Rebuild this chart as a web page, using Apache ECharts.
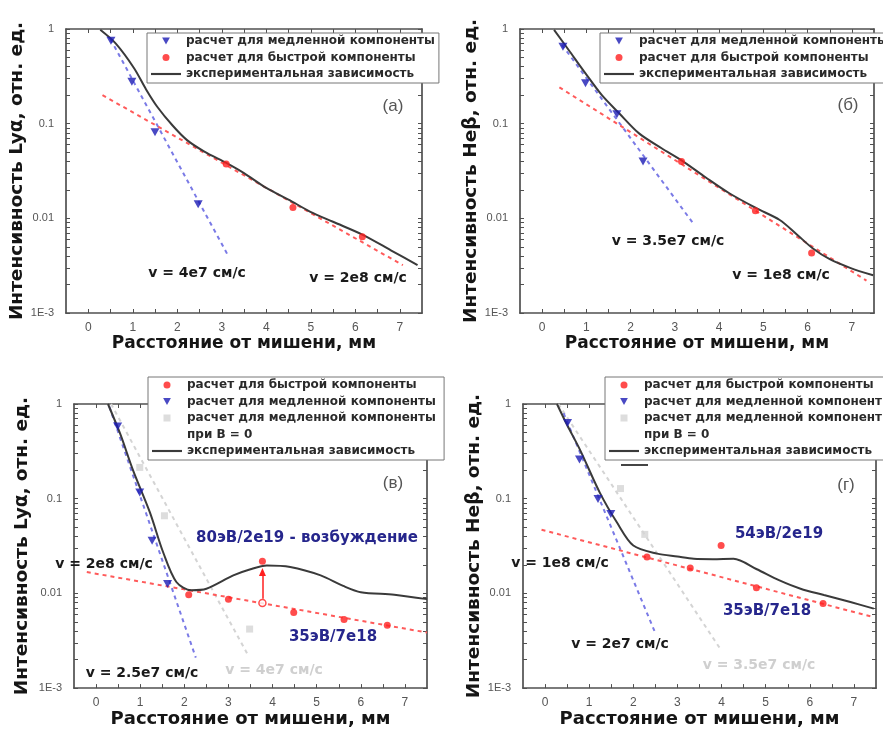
<!DOCTYPE html>
<html><head><meta charset="utf-8">
<script src="https://cdn.jsdelivr.net/npm/echarts@6/dist/echarts.min.js"></script>
<style>html,body{margin:0;padding:0;background:#fff}#c{width:883px;height:729px}</style>
</head><body><div id="c"></div>
<script>
// ---------- DATA ----------
const xTickLabels = [0,1,2,3,4,5,6,7];
const xTickMarks = [0,0.5,1,1.5,2,2.5,3,3.5,4,4.5,5,5.5,6,6.5,7];
const yTickValues = [0.001,0.01,0.1,1];
const yTickLabels = ['1E-3','0.01','0.1','1'];
const yMinorValues = [0.001,0.002,0.003,0.004,0.005,0.006,0.007,0.008,0.009,
  0.01,0.02,0.03,0.04,0.05,0.06,0.07,0.08,0.09,0.1,0.2,0.3,0.4,0.5,0.6,0.7,0.8,0.9,1];

// panel (а)
const aSlow = [[0.51,0.75],[0.98,0.278],[1.5,0.081],[2.47,0.0141]];
const aSlowFit = [[0.5,0.78],[3.16,0.0039]];
const aFast = [[3.10,0.0376],[4.6,0.013],[6.16,0.0064]];
const aFastFit = [[0.32,0.20],[7.07,0.0032]];
const aExp = [[0.27,0.98],[0.62,0.7],[1.03,0.385],[1.3,0.23],[1.55,0.151],[1.9,0.095],[2.22,0.067],[2.6,0.051],[3.12,0.038],[3.5,0.03],[4.01,0.0208],[4.5,0.0158],[4.98,0.0118],[5.5,0.0092],[6.17,0.0067],[6.8,0.0046],[7.4,0.0032]];

// panel (б)
const bSlow = [[0.47,0.65],[0.98,0.267],[1.69,0.126],[2.28,0.0398]];
const bSlowFit = [[0.45,0.68],[3.44,0.0085]];
const bFast = [[3.15,0.0398],[4.82,0.012],[6.09,0.0043]];
const bFastFit = [[0.39,0.242],[7.33,0.0022]];
const bExp = [[0.27,0.98],[0.6,0.6],[0.98,0.34],[1.35,0.2],[1.74,0.129],[2.19,0.079],[2.7,0.055],[3.15,0.041],[3.7,0.027],[4.23,0.0184],[4.84,0.0128],[5.37,0.0096],[5.75,0.0068],[6.12,0.0048],[6.5,0.0037],[6.96,0.003],[7.48,0.0025]];

// panel (в)
const cSlow = [[0.49,0.58],[0.99,0.116],[1.27,0.036],[1.62,0.0126]];
const cSlowFit = [[0.3,0.94],[2.26,0.0021]];
const cB0 = [[0.99,0.214],[1.55,0.066],[3.48,0.0042]];
const cB0Fit = [[0.34,1.0],[3.45,0.0022]];
const cFast = [[2.1,0.0097],[3.0,0.0087],[3.77,0.0219],[4.48,0.0063],[5.62,0.0053],[6.6,0.0046]];
const cFastOpen = [[3.77,0.0079]];
const cArrow = [[3.77,0.0088],[3.77,0.0168]];
const cFastFit = [[-0.21,0.0168],[7.5,0.00386]];
const cExp = [[0.27,1.0],[0.55,0.48],[0.83,0.204],[1.22,0.0716],[1.52,0.0272],[1.82,0.0132],[2.16,0.0108],[2.5,0.0112],[3.11,0.0155],[3.5,0.018],[3.87,0.0197],[4.4,0.019],[5.09,0.0155],[5.6,0.012],[6.0,0.0103],[6.76,0.0097],[7.5,0.0087]];

// panel (г)
const dSlow = [[0.51,0.63],[0.78,0.26],[1.2,0.099],[1.49,0.069]];
const dSlowFit = [[0.42,0.8],[2.5,0.0038]];
const dB0 = [[1.71,0.128],[2.26,0.042]];
const dB0Fit = [[0.3,1.0],[3.97,0.0026]];
const dFast = [[2.31,0.0242],[3.29,0.0186],[3.99,0.032],[4.79,0.0115],[6.3,0.0078]];
const dFastFit = [[-0.08,0.047],[7.45,0.0056]];
const dExp = [[0.27,1.0],[0.5,0.6],[0.79,0.33],[1.24,0.116],[1.63,0.056],[2.0,0.032],[2.54,0.0263],[3.0,0.0245],[3.37,0.0232],[3.8,0.023],[4.27,0.0232],[4.8,0.018],[5.3,0.0138],[5.79,0.0112],[6.32,0.0096],[6.92,0.0081],[7.45,0.0069]];

const NAME_SLOW = 'расчет для медленной компоненты';
const NAME_FAST = 'расчет для быстрой компоненты';
const NAME_B0 = 'расчет для медленной компоненты ';
const NAME_B0b = 'при B = 0';
const NAME_EXP = 'экспериментальная зависимость';
const xTitle = 'Расстояние от мишени, мм';
const yTitles = ['Интенсивность Lyα, отн. ед.','Интенсивность Heβ, отн. ед.','Интенсивность Lyα, отн. ед.','Интенсивность Heβ, отн. ед.'];

// ---------- STYLE / LAYOUT ----------
const FONT = "'Liberation Sans', Arial, sans-serif";
const BFONT = "'DejaVu Sans', Verdana, sans-serif";
const AX = '#505050';
const C_BLUE = '#1c1cb4', C_BLUE_L = '#7a7ae6';
const C_RED = '#ff1f1f', C_RED_L = '#ff5a5a';
const C_GRAY = '#d4d4d4';
const C_EXP = '#3a3a3a';
const TRI = 'path://M0,0L10,0L5,9Z';
const SQ = 'path://M0,0L10,0L10,10L0,10Z';
const LINEICON = 'path://M0,0L28,0L28,2L0,2Z';

const grids = [
  {left:66, top:29, width:356, height:284},
  {left:520, top:29, width:354, height:284},
  {left:74, top:404, width:353, height:286},
  {left:523, top:404, width:353, height:287}
];
const xNameGap = [17,17,20,20];
const xNameSize = [17,17,18,18];
const yNameGap = [37,36,42,39];

const xAxes = [], yAxes = [];
grids.forEach((g, i) => {
  const common = {gridIndex:i, type:'value', min:-0.5, max:7.5, splitLine:{show:false},
    axisLine:{show:true, onZero:false, lineStyle:{color:AX, width:1.7}},
    axisTick:{show:true, inside:true, length:4, customValues:xTickMarks, lineStyle:{color:AX, width:1}}};
  xAxes.push(Object.assign({}, common, {position:'bottom',
    axisLabel:{show:true, customValues:xTickLabels, color:'#555', fontSize:12, fontFamily:FONT, margin:9},
    name:xTitle, nameLocation:'middle', nameGap:xNameGap[i],
    nameTextStyle:{fontFamily:BFONT, fontWeight:'bold', fontSize:xNameSize[i], color:'#151515'}}));
  xAxes.push(Object.assign({}, common, {position:'top', axisLabel:{show:false}}));
  const ycommon = {gridIndex:i, type:'log', logBase:10, min:0.001, max:1, splitLine:{show:false},
    axisLine:{show:true, onZero:false, lineStyle:{color:AX, width:1.7}},
    axisTick:{show:true, inside:true, length:4, customValues:yMinorValues, lineStyle:{color:AX, width:1}}};
  yAxes.push(Object.assign({}, ycommon, {position:'left',
    axisLabel:{show:true, customValues:yTickValues, color:'#555', fontSize:11, fontFamily:FONT, margin:12,
      formatter:(v)=> yTickLabels[Math.round(Math.log10(v))+3]},
    name:yTitles[i], nameLocation:'middle', nameGap:yNameGap[i], nameRotate:90,
    nameTextStyle:{fontFamily:BFONT, fontWeight:'bold', fontSize:18.5, color:'#151515'}}));
  yAxes.push(Object.assign({}, ycommon, {position:'right', axisLabel:{show:false}}));
});

function ax(i){ return {xAxisIndex:2*i, yAxisIndex:2*i}; }
function fit(i, data, color, z){ return Object.assign({type:'line', data, symbol:'none', silent:true, z:z||2,
  lineStyle:{color, width:2, type:[4,4]}}, ax(i)); }
function expLine(i, data){ return Object.assign({name:NAME_EXP, type:'line', data, symbol:'none', smooth:0.3,
  z:3, silent:true, lineStyle:{color:C_EXP, width:2}, itemStyle:{color:C_EXP}}, ax(i)); }
function slow(i, data){ return Object.assign({name:NAME_SLOW, type:'scatter', data, symbol:TRI, symbolSize:[9,8], z:5,
  itemStyle:{color:C_BLUE}}, ax(i)); }
function fast(i, data){ return Object.assign({name:NAME_FAST, type:'scatter', data, symbol:'circle', symbolSize:7, z:5,
  itemStyle:{color:C_RED}}, ax(i)); }
function b0(i, data){ return Object.assign({name:NAME_B0, type:'scatter', data, symbol:SQ, symbolSize:7, z:4,
  itemStyle:{color:C_GRAY}}, ax(i)); }

const series = [
  fit(0, aSlowFit, C_BLUE_L), fit(0, aFastFit, C_RED_L), expLine(0, aExp), slow(0, aSlow), fast(0, aFast),
  fit(1, bSlowFit, C_BLUE_L), fit(1, bFastFit, C_RED_L), expLine(1, bExp), slow(1, bSlow), fast(1, bFast),
  fit(2, cB0Fit, C_GRAY), fit(2, cSlowFit, C_BLUE_L), fit(2, cFastFit, C_RED_L), expLine(2, cExp),
  b0(2, cB0), slow(2, cSlow), fast(2, cFast),
  Object.assign({type:'scatter', data:cFastOpen, symbol:'circle', symbolSize:7, z:5,
    itemStyle:{color:'#fff', borderColor:C_RED, borderWidth:1.5},
    markLine:{silent:true, symbol:['none','triangle'], symbolSize:[7,8], label:{show:false},
      lineStyle:{color:C_RED, width:1.5, type:'solid'}, itemStyle:{color:C_RED},
      data:[[{coord:cArrow[0]},{coord:cArrow[1]}]]}}, ax(2)),
  Object.assign({name:NAME_B0b, type:'scatter', data:[]}, ax(2)),
  fit(3, dB0Fit, C_GRAY), fit(3, dSlowFit, C_BLUE_L), fit(3, dFastFit, C_RED_L), expLine(3, dExp),
  b0(3, dB0), slow(3, dSlow), fast(3, dFast)
];

const legendBase = {orient:'vertical', selectedMode:false, backgroundColor:'#fff', borderColor:'#777', borderWidth:1,
  itemWidth:30, itemHeight:7, itemGap:2.5, padding:[1,4,2,4],
  textStyle:{fontFamily:BFONT, fontWeight:'bold', fontSize:12, color:'#2a2a2a', lineHeight:14}};
const legItemsTop = [{name:NAME_SLOW, icon:TRI}, {name:NAME_FAST, icon:'circle'}, {name:NAME_EXP, icon:LINEICON}];
const legItemsBot = [{name:NAME_FAST, icon:'circle'}, {name:NAME_SLOW, icon:TRI}, {name:NAME_B0, icon:SQ},
  {name:NAME_B0b, icon:'none'}, {name:NAME_EXP, icon:LINEICON}];
const legends = [
  Object.assign({}, legendBase, {left:147, top:33, data:legItemsTop}),
  Object.assign({}, legendBase, {left:600, top:33, data:legItemsTop}),
  Object.assign({}, legendBase, {left:148, top:377, data:legItemsBot}),
  Object.assign({}, legendBase, {left:605, top:377, data:legItemsBot})
];

function txt(text, x, y, size, color, weight, fam){
  return {type:'text', x, y, z:10, style:{text, fill:color, fontFamily:fam||BFONT, fontSize:size,
    fontWeight:weight||'bold', align:'center', verticalAlign:'middle'}};
}
const DB = '#26268c';
const graphics = [
  txt('(а)', 393, 106, 17, '#555', 'normal', FONT),
  txt('(б)', 848, 105, 17, '#555', 'normal', FONT),
  txt('(в)', 393, 483, 17, '#555', 'normal', FONT),
  txt('(г)', 846, 485, 17, '#555', 'normal', FONT),
  txt('v = 4e7 см/с', 197, 273, 14, '#1a1a1a'),
  txt('v = 2e8 см/с', 358, 278, 14, '#1a1a1a'),
  txt('v = 3.5e7 см/с', 668, 241, 14, '#1a1a1a'),
  txt('v = 1e8 см/с', 781, 275, 14, '#1a1a1a'),
  txt('80эВ/2e19 - возбуждение', 307, 538, 15, DB),
  txt('v = 2e8 см/с', 104, 564, 14, '#1a1a1a'),
  txt('35эВ/7e18', 333, 637, 15, DB),
  txt('v = 2.5e7 см/с', 142, 673, 14, '#1a1a1a'),
  txt('v = 4e7 см/с', 274, 670, 14, '#cfcfcf'),
  txt('54эВ/2e19', 779, 534, 15, DB),
  txt('v = 1e8 см/с', 560, 563, 14, '#1a1a1a'),
  txt('35эВ/7e18', 767, 611, 15, DB),
  txt('v = 2e7 см/с', 620, 644, 14, '#1a1a1a'),
  txt('v = 3.5e7 см/с', 759, 665, 14, '#cfcfcf'),
  {type:'line', z:10, shape:{x1:621, y1:465, x2:648, y2:465}, style:{stroke:'#444', lineWidth:2}}
];

const chart = echarts.init(document.getElementById('c'), null, {renderer:'canvas'});
chart.setOption({
  animation:false, backgroundColor:'#fff',
  grid: grids, xAxis: xAxes, yAxis: yAxes, legend: legends, series, graphic: graphics
});
</script></body></html>
